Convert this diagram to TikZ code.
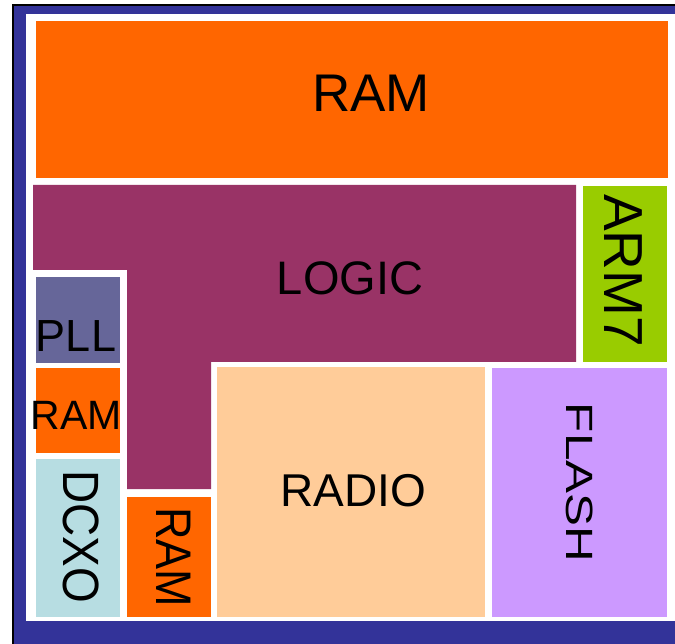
\documentclass[tikz,border=0pt]{standalone}
\usepackage{fontspec}
\setmainfont{Liberation Sans}
\usepackage{graphicx}
\usepackage{tikz}
\usetikzlibrary{positioning}

\definecolor{framenavy}{HTML}{333399}
\definecolor{ramorange}{HTML}{FF6600}
\definecolor{logicplum}{HTML}{993366}
\definecolor{armgreen}{HTML}{99CC00}
\definecolor{pllslate}{HTML}{666699}
\definecolor{dcxoblue}{HTML}{B7DDE2}
\definecolor{radiopeach}{HTML}{FFCC99}
\definecolor{flashlilac}{HTML}{CC99FF}

\begin{document}
\begin{tikzpicture}[
		x=1pt, y=-1pt,
		lbl/.style={inner sep=0pt, outer sep=0pt, text=black},
		vlbl/.style={lbl, rotate=-90}]

	\useasboundingbox (0,0) rectangle (675,644);

	% frame
	\fill[framenavy] (13,5) rectangle (675,644);
	\draw[black, line width=1.2pt] (13,644) -- (13,5) -- (675,5);
	\fill[white] (26,14) rectangle (675,621);

	% top row
	\fill[ramorange] (36,21) rectangle (668,178);
	\node[lbl] (ramtop) at (371,93.5) {\fontsize{53}{60}\selectfont RAM};

	% logic block (L shape) and ARM7
	\fill[logicplum] (33,185) -- (576,185) -- (576,362) -- (211,362)
		-- (211,489) -- (127,489) -- (127,270) -- (33,270) -- cycle;
	\node[lbl] (logic) at (350,278.5) {\fontsize{47}{54}\selectfont LOGIC};
	\fill[armgreen] (583,186) rectangle (667,362);
	\node[vlbl] (arm) at (623,270.5) {\fontsize{55}{60}\selectfont ARM7};

	% left column
	\fill[pllslate] (36,277) rectangle (120,363);
	\node[lbl] (pll) at (76,336.5) {\fontsize{45}{50}\selectfont PLL};
	\fill[ramorange] (36,368) rectangle (120,453);
	\node[lbl] (ramleft) at (76.5,415) {\fontsize{41}{46}\selectfont RAM};
	\fill[dcxoblue] (36,459) rectangle (120,617);
	\node[vlbl] (dcxo) at (81.5,536.5) {\fontsize{51}{56}\selectfont\scalebox{0.9}[1]{DCXO}};

	% bottom row
	\fill[ramorange] (127,497) rectangle (211,617);
	\node[vlbl] (ramlow) at (173.5,557) {\fontsize{50}{56}\selectfont\scalebox{0.9}[1]{RAM}};
	\fill[radiopeach] (217,367) rectangle (485,617);
	\node[lbl] (radio) at (353,490.5) {\fontsize{46}{52}\selectfont RADIO};
	\fill[flashlilac] (492,368) rectangle (667,617);
	\node[vlbl] (flash) at (579.5,482.5) {\fontsize{38}{44}\selectfont\scalebox{1.3}[1]{FLASH}};

\end{tikzpicture}
\end{document}
